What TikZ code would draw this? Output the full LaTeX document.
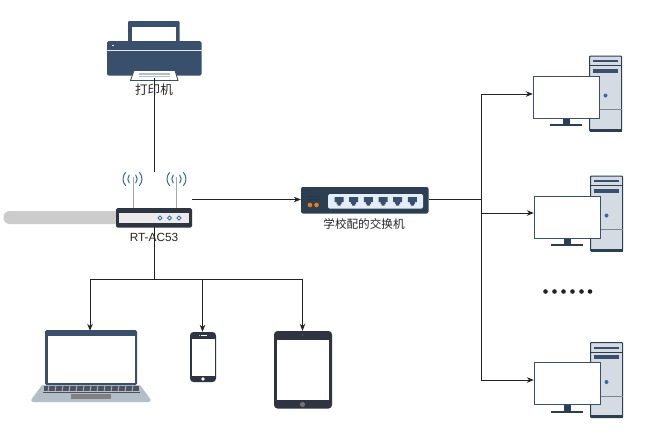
\documentclass[tikz,border=0pt]{standalone}
\usepackage{fontspec}
\setmainfont{Liberation Sans}
\newfontfamily\cjkfont{Noto Sans CJK SC}
\usetikzlibrary{arrows.meta}
\definecolor{navy}{HTML}{3A4F6B}
\definecolor{deep}{HTML}{2C3E52}
\definecolor{slate}{HTML}{2F3441}
\definecolor{pale}{HTML}{E4EEF8}
\definecolor{towerfill}{HTML}{D5DBE2}
\definecolor{silver}{HTML}{B4BEC8}
\definecolor{wifi}{HTML}{3B66AE}
\definecolor{inkline}{HTML}{222222}
\tikzset{
  link/.style={draw=inkline,line width=1pt},
  arrowlink/.style={link,-{Stealth[length=7pt,width=5.5pt]}},
  labeltext/.style={font=\cjkfont\fontsize{11.6pt}{13pt}\selectfont,text=black!85,inner sep=0pt},
  labellatin/.style={font=\fontsize{11.8pt}{13pt}\selectfont,text=black!85,inner sep=0pt},
  anchorbox/.style={inner sep=0pt,minimum size=0pt},
  port/.style={fill=navy,draw=none},
  bluewave/.style={draw=wifi,line width=1pt,line cap=round},
}
\newcommand{\wifisign}[1]{%
  \begin{scope}[shift={#1}]
    \draw[bluewave] (-3.2,4) .. controls (-5.2,1.5) and (-5.2,-1.5) .. (-3.2,-4);
    \draw[bluewave] (3.2,4) .. controls (5.2,1.5) and (5.2,-1.5) .. (3.2,-4);
    \draw[bluewave] (-7,6.5) .. controls (-10.3,2.5) and (-10.3,-2.5) .. (-7,-6.5);
    \draw[bluewave] (7,6.5) .. controls (10.3,2.5) and (10.3,-2.5) .. (7,-6.5);
  \end{scope}}
\newcommand{\pcicon}[1]{%
  \begin{scope}[shift={#1}]
    \fill[towerfill,draw=deep,line width=1pt,rounded corners=0.8pt] (589.5,56) rectangle (621.5,131);
    \fill[deep] (589.5,128.5) rectangle (621.5,131.5);
    \draw[deep,line width=0.6pt] (589.5,65.5) -- (621.5,65.5);
    \draw[silver!70!black,line width=0.6pt] (589.5,109.5) -- (621.5,109.5);
    \fill[navy] (593,60) rectangle (618,62);
    \fill[navy] (593,68.5) rectangle (618,72.5);
    \fill[wifi] (605.5,95.5) circle (2);
    \fill[deep] (563,118) rectangle (570,124);
    \fill[deep] (550,124) rectangle (582,126);
    \fill[white,draw=navy,line width=1pt] (533,76) rectangle (599,118);
  \end{scope}}
\begin{document}
\begin{tikzpicture}[x=1pt,y=-1pt]
\useasboundingbox (0,0) rectangle (650,437);
\fill[white] (0,0) rectangle (650,437);

% printer
\fill[navy,rounded corners=1pt] (128,21) rectangle (179.5,42);
\fill[white] (132,27) rectangle (176,42);
\fill[navy,rounded corners=1.5pt] (107,41) rectangle (201.5,75.5);
\draw[pale,line width=0.7pt] (107,50) -- (201.5,50);
\fill[pale] (112,45) rectangle (114,46);
\fill[white,draw=navy,line width=0.9pt] (134,70.5) -- (175,70.5) -- (178,80.5) -- (130.5,80.5) -- cycle;
\fill[silver] (139,73) rectangle (170,77);
\draw[white,line width=0.5pt] (139,75) -- (170,75);
\node[anchorbox] (printer) at (154,78) {};
\node[labeltext,font=\cjkfont\fontsize{12.6pt}{14pt}\selectfont] (printerlabel) at (154,90) {打印机};

% router
\fill[black!20,rounded corners=6pt] (3.5,211) rectangle (120,224);
\draw[black!35,line width=0.8pt] (133,177) -- (133,208);
\draw[black!35,line width=0.8pt] (176.5,177) -- (176.5,208);
\wifisign{(132.5,179)}
\wifisign{(176.5,179)}
\fill[slate,rounded corners=1.5pt] (116,208) rectangle (192,227.5);
\fill[black!8] (119,213) rectangle (189,223);
\foreach \cx in {160,169.5,179}{\draw[wifi,line width=0.9pt,fill=white] (\cx,218) circle (1.9);}
\node[anchorbox] (routertop) at (154,172) {};
\node[anchorbox] (routerbottom) at (154,227) {};
\node[anchorbox] (routerright) at (192,199.5) {};
\node[labellatin] (routerlabel) at (154,237.5) {RT-AC53};

% switch
\fill[deep,rounded corners=2pt] (301,187) rectangle (428.5,213.5);
\fill[pale,rounded corners=1.5pt] (328,194) rectangle (423,208.5);
\foreach \cx in {339,353.7,368.4,383,397.7,412.4}{
  \fill[port] (\cx-4.5,197) -- (\cx+4.5,197) -- (\cx+4.5,202) -- (\cx+2.5,202) -- (\cx+2.5,204) -- (\cx+1.5,204) -- (\cx+1.5,205.5) -- (\cx-1.5,205.5) -- (\cx-1.5,204) -- (\cx-2.5,204) -- (\cx-2.5,202) -- (\cx-4.5,202) -- cycle;}
\draw[navy!70!black,line width=0.5pt] (307,196) -- (320,196);
\draw[navy!70!black,line width=0.5pt] (307,199) -- (320,199);
\fill[orange!60!brown] (310,205) circle (2.3);
\fill[orange!60!brown] (316.5,205) circle (2.3);
\node[anchorbox] (switchleft) at (301,199.5) {};
\node[anchorbox] (switchright) at (428.5,199.5) {};
\node[labeltext] (switchlabel) at (364,224) {学校配的交换机};

% computers
\pcicon{(0,0)}
\pcicon{(1,120)}
\pcicon{(1,286.5)}
\node[anchorbox] (pcone) at (533,94) {};
\node[anchorbox] (pctwo) at (534,213) {};
\node[anchorbox] (pcthree) at (534,380) {};
\foreach \cx in {545.5,554.5,563.5,572.5,581.5,590}{\fill[inkline] (\cx,291.5) circle (2.3);}

% laptop
\fill[silver,rounded corners=1pt] (42,385) -- (140,385) -- (151,400) -- (150,402) -- (32,402) -- (31,400) -- cycle;
\fill[navy,rounded corners=1.5pt] (45,330) rectangle (137,385);
\fill[white] (47.5,336) rectangle (134.5,382.5);
\fill[slate!85] (44,386) rectangle (139,391);
\fill[slate!85] (43,391.5) rectangle (140,392.5);
\foreach \cx in {49,56,63,70,77,84,91,98,105,112,119,126,133}{
  \draw[silver,line width=0.8pt] (\cx,385.5) -- (\cx-1,391.5);}
\fill[black!50] (71,394) rectangle (111,399);
\node[anchorbox] (laptop) at (90,331) {};

% phone
\fill[slate,rounded corners=3.5pt] (190,332) rectangle (216,382);
\fill[white] (191.5,338.5) rectangle (214.5,376);
\draw[white,line width=0.5pt] (201,335.5) -- (207,335.5);
\fill[white] (199.5,335.5) circle (0.4);
\fill[white] (203,379) circle (1.9);
\node[anchorbox] (phone) at (202.5,332) {};

% tablet
\fill[slate,rounded corners=3.5pt] (274,331) rectangle (332,408.5);
\fill[white] (276.5,340) rectangle (329,400);
\fill[black!55] (302.5,404.5) circle (2.6);
\fill[black!55] (302.5,335) circle (0.6);
\node[anchorbox] (tablet) at (302.5,331) {};

% connectors
\coordinate (lanbus) at (481,199.5);
\coordinate (wlanbus) at (154,279);
\draw[link] (printer) -- (routertop);
\draw[arrowlink] (routerright) -- (switchleft);
\draw[link] (switchright) -- (lanbus);
\draw[arrowlink] (lanbus) |- (pcone);
\draw[arrowlink] (lanbus) |- (pctwo);
\draw[arrowlink] (lanbus) |- (pcthree);
\draw[link] (routerbottom) -- (wlanbus);
\draw[arrowlink] (wlanbus) -| (laptop);
\draw[arrowlink] (wlanbus) -| (phone);
\draw[arrowlink] (wlanbus) -| (tablet);
\end{tikzpicture}
\end{document}
